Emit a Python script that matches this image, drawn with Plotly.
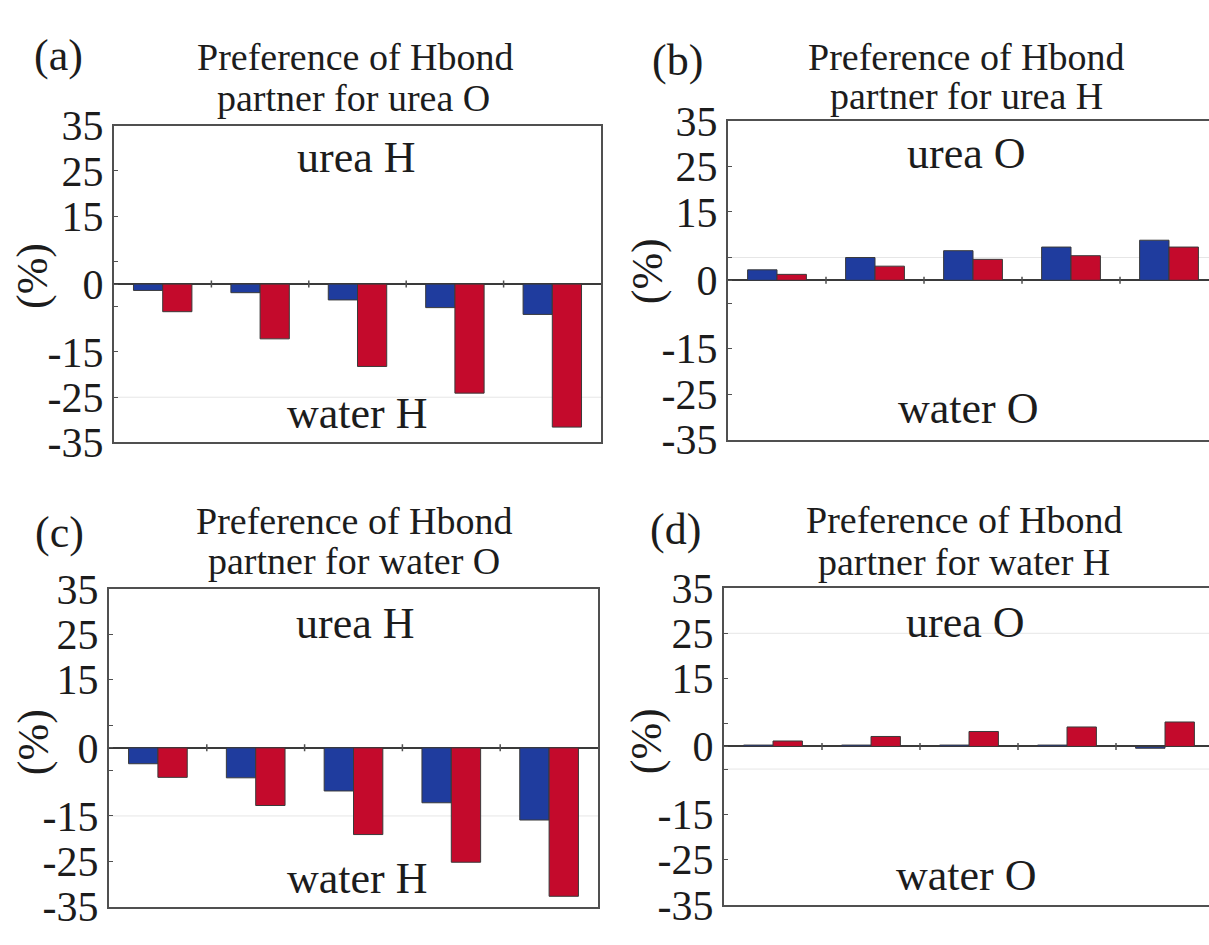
import plotly.graph_objects as go

# ---- data -------------------------------------------------------------
groups = [0, 1, 2, 3, 4]

a_blue = [-1.4, -1.9, -3.5, -5.2, -6.7]
a_red = [-6.1, -12.1, -18.2, -24.1, -31.6]

b_blue = [2.3, 5.0, 6.5, 7.3, 8.8]
b_red = [1.3, 3.1, 4.6, 5.4, 7.3]

c_blue = [-3.5, -6.6, -9.5, -12.1, -15.9]
c_red = [-6.5, -12.7, -19.1, -25.2, -32.7]

d_blue = [0.3, 0.3, 0.3, 0.3, -0.4]
d_red = [1.2, 2.2, 3.3, 4.3, 5.4]

tick_vals = [35, 25, 15, 5, 0, -5, -15, -25, -35]
tick_text = ["35", "25", "15", "", "0", "", "-15", "-25", "-35"]

panel_tags = ["(a)", "(b)", "(c)", "(d)"]
panel_titles = [
    ("Preference of Hbond", "partner for urea O"),
    ("Preference of Hbond", "partner for urea H"),
    ("Preference of Hbond", "partner for water O"),
    ("Preference of Hbond", "partner for water H"),
]
top_labels = ["urea H", "urea O", "urea H", "urea O"]
bottom_labels = ["water H", "water O", "water H", "water O"]
faint_lines = [[-25], [5], [-15], [25, -5]]

# ---- page geometry (pixels) --------------------------------------------
W, H = 1209, 945
BLUE = "#1f3c9e"
RED = "#c40a2c"
INK = "#1c1c1c"
AXIS = "#505050"
SERIF = "Liberation Serif"


def px(x):
    return x / W


def py(y):
    return 1 - y / H


# box: left, right, top, bottom; x upper limit; title/label anchors
panels = [
    dict(blue=a_blue, red=a_red, box=(114, 601, 109, 442), xmax=4.5,
         closed=True, tag=(58, 35), t1=(355, 37), t2=(353, 80),
         ylab=(32, 267), top=(356, 142), bot=(357, 412)),
    dict(blue=b_blue, red=b_red, box=(728, 1209, 104, 439), xmax=4.408,
         closed=False, tag=(677, 40), t1=(966, 37), t2=(966, 78),
         ylab=(647, 262), top=(966, 138), bot=(968, 406)),
    dict(blue=c_blue, red=c_red, box=(109, 598, 596, 930), xmax=4.5,
         closed=True, tag=(59, 537), t1=(354, 525), t2=(354, 567),
         ylab=(33, 757), top=(355, 632), bot=(357, 900)),
    dict(blue=d_blue, red=d_red, box=(724, 1209, 595, 928), xmax=4.449,
         closed=False, tag=(675, 533), t1=(964, 524), t2=(964, 568),
         ylab=(646, 756), top=(965, 631), bot=(966, 897)),
]

fig = go.Figure()
annotations = []
shapes = []

for i, p in enumerate(panels):
    n = "" if i == 0 else str(i + 1)
    xa, ya = "x" + n, "y" + n
    for vals, col in ((p["blue"], BLUE), (p["red"], RED)):
        fig.add_trace(go.Bar(
            x=groups, y=vals, xaxis=xa, yaxis=ya,
            marker=dict(color=col, line=dict(color="#3a3a3a", width=1)),
            showlegend=False, hoverinfo="y",
        ))
    # small separators on the zero line between groups
    fig.add_trace(go.Scatter(
        x=[g + 0.5 for g in groups[:-1]], y=[0] * 4, xaxis=xa, yaxis=ya,
        mode="markers",
        marker=dict(symbol="line-ns", size=5, line=dict(color=AXIS, width=1.5)),
        showlegend=False, hoverinfo="skip",
    ))

    l, r, t, b = p["box"]
    fig.layout["xaxis" + n] = dict(
        domain=[px(l), px(r)], range=[-0.5, p["xmax"]], anchor=ya,
        showticklabels=False, ticks="", showgrid=False, zeroline=False,
        showline=True, mirror=True, linecolor=AXIS, linewidth=2,
    )
    fig.layout["yaxis" + n] = dict(
        domain=[py(b), py(t)], range=[-35, 35], anchor=xa,
        tickmode="array", tickvals=tick_vals, ticktext=tick_text,
        ticks="inside", ticklen=4, tickwidth=1, tickcolor=AXIS,
        tickfont=dict(family=SERIF, size=42, color=INK),
        showgrid=False, zeroline=True, zerolinecolor="#3a3a3a",
        zerolinewidth=2, showline=True, mirror=p["closed"], linecolor=AXIS,
        linewidth=2,
    )
    for v in faint_lines[i]:
        shapes.append(dict(
            type="line", xref=xa + " domain", yref=ya, x0=0, x1=1, y0=v,
            y1=v, line=dict(color="#e6e6e6", width=1), layer="below",
        ))

    def note(text, xy, size, angle=0):
        annotations.append(dict(
            text=text, x=px(xy[0]), y=py(xy[1]), xref="paper", yref="paper",
            xanchor="center", yanchor="middle", showarrow=False,
            textangle=angle, font=dict(family=SERIF, size=size, color=INK),
        ))

    note(panel_tags[i], p["tag"], 44)
    note(panel_titles[i][0], p["t1"], 38)
    note(panel_titles[i][1], p["t2"], 38)
    note("(%)", p["ylab"], 44, angle=-90)
    note(top_labels[i], p["top"], 44)
    note(bottom_labels[i], p["bot"], 44)

fig.update_layout(
    width=W, height=H, margin=dict(l=0, r=0, t=0, b=0),
    paper_bgcolor="white", plot_bgcolor="white",
    barmode="group", bargap=0.4, bargroupgap=0,
    annotations=annotations, shapes=shapes,
)

fig.write_html("out.html")
